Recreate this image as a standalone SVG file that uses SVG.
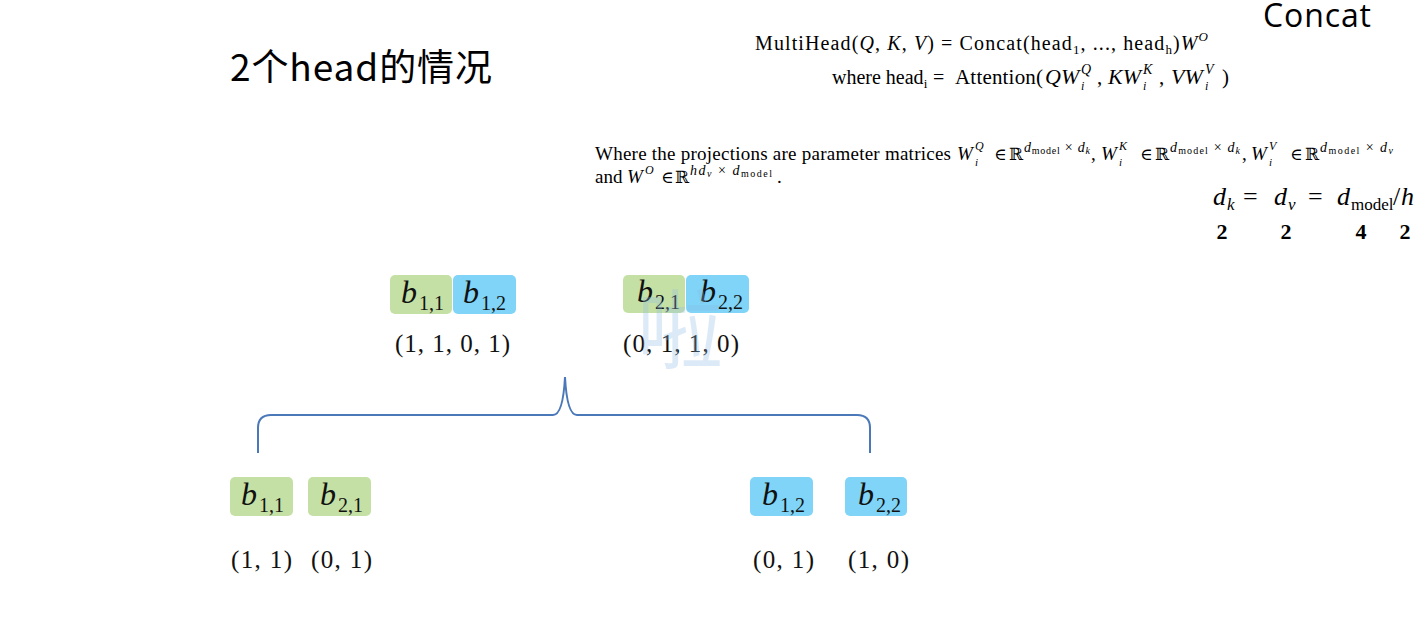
<svg xmlns="http://www.w3.org/2000/svg" width="1425" height="633" viewBox="0 0 1425 633">
<style>
.bg{fill:#ffffff}
.g{fill:#c5e0a5}
.b{fill:#7fd4f7}
.bv{font-family:"Liberation Serif","DejaVu Serif",serif;font-style:italic;font-size:32px;fill:#111}
.bs{font-family:"Liberation Serif","DejaVu Serif",serif;font-size:20px;fill:#111}
.tu{font-family:"Liberation Serif","DejaVu Serif",serif;font-size:25px;fill:#111}
.tex{font-family:"Liberation Serif","DejaVu Serif",serif;fill:#000}
.it{font-style:italic}
.rr{font-family:"DejaVu Serif",serif}
.sp{font-size:14px}
.sm{font-size:10px}
.brace{fill:none;stroke:#4a78b8;stroke-width:2}
.title{font-family:"Noto Sans CJK SC","Noto Sans",sans-serif;font-size:37px;fill:#000}
.concat{font-family:"Open Sans","Liberation Sans",sans-serif;font-size:32px;fill:#000}
.num{font-family:"Liberation Serif",serif;font-size:22px;font-weight:bold;fill:#000}
.wm{font-family:"Noto Sans CJK SC",sans-serif;font-size:86px;fill:#8fbde6;opacity:0.3}
</style>
<rect class="bg" x="0" y="0" width="1425" height="633"/>

<g id="title"><text class="title" x="230" y="81" textLength="262" lengthAdjust="spacing">2个head的情况</text></g>
<g id="concat-label"><text class="concat" x="1263" y="27" textLength="108" lengthAdjust="spacing">Concat</text></g>

<g id="formula-multihead">
<text class="tex" x="755" y="50" font-size="20" textLength="453" lengthAdjust="spacing">MultiHead(<tspan class="it">Q</tspan>, <tspan class="it">K</tspan>, <tspan class="it">V</tspan>) = Concat(head<tspan font-size="13" dy="4">1</tspan><tspan dy="-4">, ..., head</tspan><tspan font-size="13" dy="4">h</tspan><tspan dy="-4">)</tspan><tspan class="it">W</tspan><tspan class="it" font-size="13" dy="-9">O</tspan></text>
</g>
<g id="formula-head">
<text class="tex" x="832" y="84" font-size="20">where head<tspan font-size="13" dy="4">i</tspan></text>
<text class="tex" x="933" y="84" font-size="20">=</text>
<text class="tex" x="955" y="84" font-size="21" textLength="88" lengthAdjust="spacing">Attention(</text>
<text class="tex it" x="1045" y="84" font-size="22">QW</text>
<text class="tex it" x="1081" y="90" font-size="12">i</text>
<text class="tex it" x="1081" y="74" font-size="14">Q</text>
<text class="tex" x="1097" y="84" font-size="21">,</text>
<text class="tex it" x="1108" y="84" font-size="22">KW</text>
<text class="tex it" x="1143" y="90" font-size="12">i</text>
<text class="tex it" x="1143" y="74" font-size="14">K</text>
<text class="tex" x="1159" y="84" font-size="21">,</text>
<text class="tex it" x="1171" y="84" font-size="22">VW</text>
<text class="tex it" x="1205" y="90" font-size="12">i</text>
<text class="tex it" x="1205" y="74" font-size="14">V</text>
<text class="tex" x="1222" y="84" font-size="21">)</text>
</g>

<g id="formula-projections">
<text class="tex" x="595" y="160" font-size="19" textLength="356" lengthAdjust="spacing">Where the projections are parameter matrices</text>
<text class="tex it" x="957" y="160" font-size="19">W</text>
<text class="tex it" x="975" y="166" font-size="11">i</text>
<text class="tex it" x="975" y="150" font-size="12">Q</text>
<text class="tex" x="994" y="160" font-size="17">∈</text>
<text class="tex rr" x="1009" y="160" font-size="17">ℝ</text>
<text class="tex sp" x="1024" y="152" textLength="66" lengthAdjust="spacing"><tspan class="it">d</tspan><tspan class="sm" dy="2">model</tspan><tspan dy="-2"> × </tspan><tspan class="it">d</tspan><tspan class="it sm" dy="2">k</tspan></text>
<text class="tex" x="1091" y="160" font-size="19">,</text>
<text class="tex it" x="1101" y="160" font-size="19">W</text>
<text class="tex it" x="1119" y="166" font-size="11">i</text>
<text class="tex it" x="1119" y="150" font-size="12">K</text>
<text class="tex" x="1140" y="160" font-size="17">∈</text>
<text class="tex rr" x="1155" y="160" font-size="17">ℝ</text>
<text class="tex sp" x="1170" y="152" textLength="70" lengthAdjust="spacing"><tspan class="it">d</tspan><tspan class="sm" dy="2">model</tspan><tspan dy="-2"> × </tspan><tspan class="it">d</tspan><tspan class="it sm" dy="2">k</tspan></text>
<text class="tex" x="1242" y="160" font-size="19">,</text>
<text class="tex it" x="1251" y="160" font-size="19">W</text>
<text class="tex it" x="1269" y="166" font-size="11">i</text>
<text class="tex it" x="1269" y="150" font-size="12">V</text>
<text class="tex" x="1290" y="160" font-size="17">∈</text>
<text class="tex rr" x="1305" y="160" font-size="17">ℝ</text>
<text class="tex sp" x="1320" y="152" textLength="73" lengthAdjust="spacing"><tspan class="it">d</tspan><tspan class="sm" dy="2">model</tspan><tspan dy="-2"> × </tspan><tspan class="it">d</tspan><tspan class="it sm" dy="2">v</tspan></text>
<text class="tex" x="595" y="183" font-size="19">and</text>
<text class="tex it" x="627" y="183" font-size="19">W</text>
<text class="tex it" x="645" y="174" font-size="12">O</text>
<text class="tex" x="661" y="183" font-size="17">∈</text>
<text class="tex rr" x="675" y="183" font-size="17">ℝ</text>
<text class="tex sp" x="690" y="175" textLength="82" lengthAdjust="spacing"><tspan class="it">hd</tspan><tspan class="it sm" dy="2">v</tspan><tspan dy="-2"> × </tspan><tspan class="it">d</tspan><tspan class="sm" dy="2">model</tspan></text>
<text class="tex" x="777" y="183" font-size="19">.</text>
</g>

<g id="formula-dims">
<text class="tex it" x="1213" y="205" font-size="26">d</text>
<text class="tex it" x="1227" y="210" font-size="17">k</text>
<text class="tex" x="1243" y="205" font-size="26">=</text>
<text class="tex it" x="1274" y="205" font-size="26">d</text>
<text class="tex it" x="1288" y="210" font-size="17">v</text>
<text class="tex" x="1308" y="205" font-size="26">=</text>
<text class="tex it" x="1337" y="205" font-size="26">d</text>
<text class="tex" x="1351" y="210" font-size="17">model</text>
<text class="tex" x="1393" y="205" font-size="26">/</text>
<text class="tex it" x="1401" y="205" font-size="26">h</text>
<text class="num" x="1222" y="239" text-anchor="middle">2</text>
<text class="num" x="1286" y="239" text-anchor="middle">2</text>
<text class="num" x="1361" y="239" text-anchor="middle">4</text>
<text class="num" x="1405" y="239" text-anchor="middle">2</text>
</g>

<g id="connectors">
<path class="brace" d="M258,453 V428 Q258,415 271,415 H553 Q563,415 565,377 Q567,415 577,415 H857 Q870,415 870,428 V453"/>
</g>

<g id="concat-1">
<rect class="g" x="390" y="275" width="62" height="39" rx="5"/>
<rect class="b" x="453" y="275" width="63" height="39" rx="5"/>
<text class="bv" x="401" y="303">b</text><text class="bs" x="419" y="310">1,1</text>
<text class="bv" x="463" y="303">b</text><text class="bs" x="481" y="310">1,2</text>
<text class="tu" x="395" y="352" textLength="115" lengthAdjust="spacing">(1, 1, 0, 1)</text>
</g>
<g id="concat-2">
<rect class="g" x="623" y="275" width="62" height="38" rx="5"/>
<rect class="b" x="686" y="275" width="63" height="38" rx="5"/>
<text class="bv" x="637" y="302">b</text><text class="bs" x="655" y="309">2,1</text>
<text class="bv" x="700" y="302">b</text><text class="bs" x="718" y="309">2,2</text>
<text class="tu" x="623" y="352" textLength="116" lengthAdjust="spacing">(0, 1, 1, 0)</text>
</g>

<g id="watermark"><text class="wm" x="637" y="362">啦</text></g>

<g id="head1-b11">
<rect class="g" x="230" y="477" width="63" height="39" rx="5"/>
<text class="bv" x="241" y="505">b</text><text class="bs" x="259" y="512">1,1</text>
<text class="tu" x="231" y="568" textLength="61" lengthAdjust="spacing">(1, 1)</text>
</g>
<g id="head1-b21">
<rect class="g" x="308" y="477" width="63" height="39" rx="5"/>
<text class="bv" x="320" y="505">b</text><text class="bs" x="338" y="512">2,1</text>
<text class="tu" x="311" y="568" textLength="61" lengthAdjust="spacing">(0, 1)</text>
</g>
<g id="head2-b12">
<rect class="b" x="750" y="477" width="63" height="39" rx="5"/>
<text class="bv" x="762" y="505">b</text><text class="bs" x="780" y="512">1,2</text>
<text class="tu" x="753" y="568" textLength="61" lengthAdjust="spacing">(0, 1)</text>
</g>
<g id="head2-b22">
<rect class="b" x="845" y="477" width="62" height="39" rx="5"/>
<text class="bv" x="858" y="505">b</text><text class="bs" x="876" y="512">2,2</text>
<text class="tu" x="848" y="568" textLength="61" lengthAdjust="spacing">(1, 0)</text>
</g>
</svg>
